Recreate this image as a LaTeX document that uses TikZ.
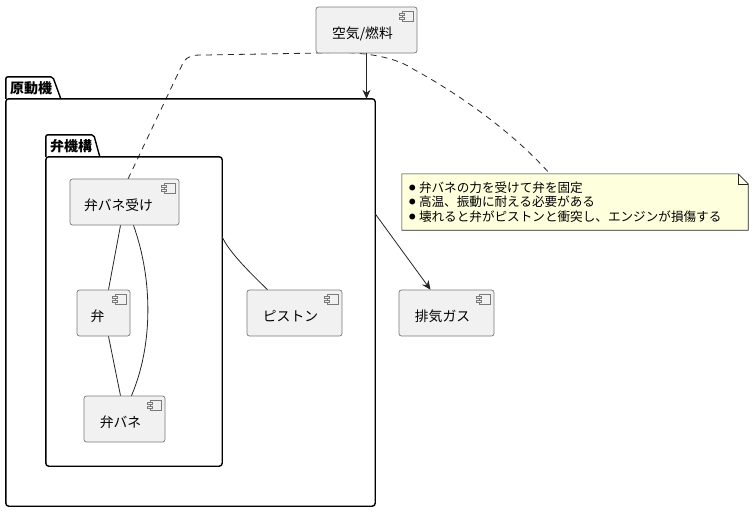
\documentclass[tikz,border=0pt]{standalone}
\usepackage{fontspec}
\setmainfont{Noto Sans CJK JP}
\usetikzlibrary{arrows.meta,calc}
\definecolor{compfill}{HTML}{F1F1F1}
\definecolor{compline}{HTML}{7A7A7A}
\definecolor{notefill}{HTML}{FEFFDD}
\newcommand{\nbul}{\makebox[10pt][l]{\raisebox{2pt}{\fontsize{6.5}{7}\selectfont ●}}}
\tikzset{
  comp/.style={draw=compline, fill=compfill, line width=0.7pt, rounded corners=2.5pt, inner sep=0pt},
  lbl/.style={font=\fontsize{13.8}{15}\selectfont, inner sep=0pt, text=black},
  pkg/.style={draw=black, line width=1.4pt},
  pkgtitle/.style={font=\fontsize{14}{16}\selectfont\bfseries, inner sep=0pt, anchor=west},
  conn/.style={draw=black!85, line width=0.8pt},
  arr/.style={conn, -{Stealth[length=9pt,width=8pt,inset=3pt]}},
  dconn/.style={draw=black!85, line width=0.8pt, dash pattern=on 6pt off 5pt},
  compicon/.pic={
    \draw[compline, fill=compfill, line width=0.6pt] (-15,5) rectangle (-4,15);
    \draw[compline, fill=compfill, line width=0.6pt] (-18,7) rectangle (-13,9);
    \draw[compline, fill=compfill, line width=0.6pt] (-18,11) rectangle (-13,13);
  }
}
\begin{document}
\begin{tikzpicture}[x=1pt,y=-1pt]
\useasboundingbox (0,0) rectangle (753,512);
\fill[white] (0,0) rectangle (753,512);

% dashed note connector (drawn first, boxes cover it)
\coordinate (dA) at (128,179);
\coordinate (dB) at (550,174);
\draw[dconn] (dA) -- (183,63) .. controls (188,55) and (193,55) .. (205,55)
  -- (320,53) .. controls (370,50) and (400,60) .. (413,69)
  .. controls (470,100) and (520,140) .. (dB);

% packages
\node[inner sep=0pt, minimum width=369, minimum height=407] (pk1) at (190.5,302.5) {};
\draw[pkg, rounded corners=3pt] (pk1.north west) -- (pk1.north east) -- (pk1.south east) -- (pk1.south west) -- cycle;
\draw[pkg] (pk1.north west) -- ++(0,-19) [rounded corners=2pt] -- ++(0,-3) -- ++(47,0) [sharp corners] -- ($(pk1.north west)+(55,0)$);
\node[pkgtitle] (pk1t) at ($(pk1.north west)+(4,-11)$) {原動機};

\node[inner sep=0pt, minimum width=176, minimum height=309] (pk2) at (134,311.5) {};
\draw[pkg, rounded corners=3pt] (pk2.north west) -- (pk2.north east) -- (pk2.south east) -- (pk2.south west) -- cycle;
\draw[pkg] (pk2.north west) -- ++(0,-19) [rounded corners=2pt] -- ++(0,-3) -- ++(48,0) [sharp corners] -- ($(pk2.north west)+(54,0)$);
\node[pkgtitle] (pk2t) at ($(pk2.north west)+(4,-11)$) {弁機構};

% components
\node[comp, minimum width=101, minimum height=46] (air) at (366.5,30) {};
\pic at (air.north east) {compicon};
\node[lbl] at ($(air.center)+(-4,4)$) {空気/燃料};

\node[comp, minimum width=109, minimum height=46] (ubs) at (124.5,202) {};
\pic at (ubs.north east) {compicon};
\node[lbl] at ($(ubs.center)+(-6,3)$) {弁バネ受け};

\node[comp, minimum width=53, minimum height=46] (ben) at (103.5,313) {};
\pic at (ben.north east) {compicon};
\node[lbl] at ($(ben.center)+(-6,3)$) {弁};

\node[comp, minimum width=81, minimum height=46] (bs) at (124.5,419) {};
\pic at (bs.north east) {compicon};
\node[lbl] at ($(bs.center)+(-4,3)$) {弁バネ};

\node[comp, minimum width=95, minimum height=46] (pis) at (294.5,313) {};
\pic at (pis.north east) {compicon};
\node[lbl] at ($(pis.center)+(-4,3)$) {ピストン};

\node[comp, minimum width=95, minimum height=46] (exh) at (446.5,313) {};
\pic at (exh.north east) {compicon};
\node[lbl] at ($(exh.center)+(-4,3)$) {排気ガス};

% note
\node[inner sep=0pt, minimum width=346, minimum height=56] (note) at (575,202) {};
\draw[draw=black!85, fill=notefill, line width=0.6pt]
  (note.north west) -- ($(note.north east)+(-10,0)$) -- ($(note.north east)+(0,10)$) -- (note.south east) -- (note.south west) -- cycle;
\draw[draw=black!85, line width=0.6pt] ($(note.north east)+(-10,0)$) -- ($(note.north east)+(-10,10)$) -- ($(note.north east)+(0,10)$);
\node[anchor=west, align=left, inner sep=0pt, font=\fontsize{12.6}{14.5}\selectfont] (notetext) at ($(note.west)+(7,0)$)
  {\nbul 弁バネの力を受けて弁を固定\\\nbul 高温、振動に耐える必要がある\\\nbul 壊れると弁がピストンと衝突し、エンジンが損傷する};

% connectors
\draw[arr] (air.south) -- (air.south |- pk1.north);
\draw[arr] ($(pk1.north east)+(0,115)$) coordinate (pk1e) -- ($(exh.north)+(-16,0)$);
\draw[conn] ($(ubs.south)+(-4,0)$) -- ($(ben.north)+(5,0)$);
\draw[conn] ($(ubs.south)+(9,0)$) .. controls (153,280) and (153,345) .. ($(bs.north)+(7,0)$);
\draw[conn] ($(ben.south)+(5,0)$) -- ($(bs.north)+(-4,0)$);
\draw[conn] ($(pk2.north east)+(0,80)$) .. controls (228,250) and (245,268) .. ($(pis.north)+(-27,0)$);
\end{tikzpicture}
\end{document}
